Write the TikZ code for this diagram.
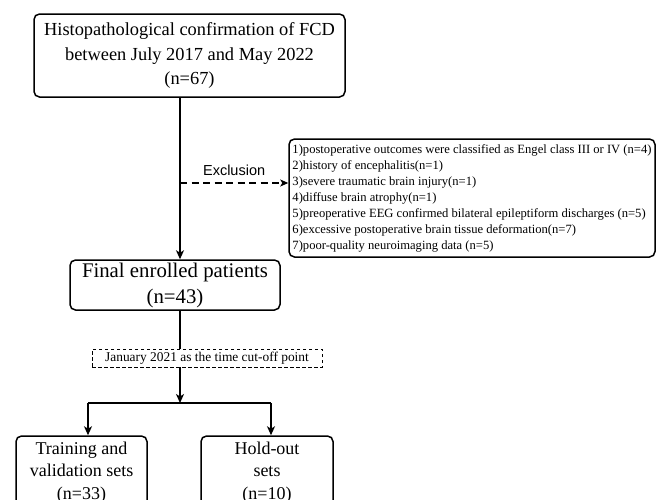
\documentclass[tikz,border=0pt]{standalone}
\usepackage{fontspec}
\setmainfont{Liberation Serif}
\newfontfamily\arialf{Liberation Sans}
\usetikzlibrary{arrows.meta}
\tikzset{
  box/.style={draw, line width=1.5pt, rounded corners=5.5pt, align=center, inner sep=0pt},
  cutbox/.style={draw, dash pattern=on 3.5pt off 2.5pt, line width=0.9pt, inner sep=0pt},
  arr/.style={line width=1.5pt, -{Stealth[length=9pt,width=8pt,inset=2.5pt]}},
  ln/.style={line width=1.5pt},
}
\begin{document}
\begin{tikzpicture}[x=1pt,y=-1pt]
\useasboundingbox (0,0) rectangle (656,499);
\clip (0,0) rectangle (656,499);
% nodes
\node[box, minimum width=311pt, minimum height=83pt,
  font=\fontsize{18.4}{24.5}\selectfont] (top) at (189.5,55.5)
  {Histopathological confirmation of FCD\\between July 2017 and May 2022\\(n=67)};
\node[box, minimum width=210pt, minimum height=50pt,
  font=\fontsize{20.8}{26}\selectfont] (final) at (175,285)
  {Final enrolled patients\\(n=43)};
\node[box, minimum width=366pt, minimum height=118pt, align=left,
  font=\fontsize{12.6}{16}\selectfont] (excl) at (472,198)
  {1)postoperative outcomes were classified as Engel class III or IV (n=4)\\
   2)history of encephalitis(n=1)\\
   3)severe traumatic brain injury(n=1)\\
   4)diffuse brain atrophy(n=1)\\
   5)preoperative EEG confirmed bilateral epileptiform discharges (n=5)\\
   6)excessive postoperative brain tissue deformation(n=7)\\
   7)poor-quality neuroimaging data (n=5)};
\node[cutbox, minimum width=230pt, minimum height=18pt,
  font=\fontsize{13.4}{16}\selectfont] (cut) at (207,358)
  {January 2021 as the time cut-off point};
\node[box, minimum width=131pt, minimum height=73pt,
  font=\fontsize{18}{22.5}\selectfont] (train) at (81.5,472.5)
  {Training and\\validation sets\\(n=33)};
\node[box, minimum width=132pt, minimum height=73pt,
  font=\fontsize{18}{22.5}\selectfont] (hold) at (267,472.5)
  {Hold-out\\sets\\(n=10)};
% coordinates
\coordinate (lx) at (180,0);
\coordinate (ex) at (180,183);
\coordinate (sp) at (180,403);
\coordinate (spl) at (88,403);
\coordinate (spr) at (271,403);
% connectors
\draw[arr] (top.south -| lx) -- (final.north -| lx);
\draw[line width=1.2pt, dash pattern=on 7pt off 4.5pt, -{Stealth[length=8pt,width=7pt,inset=2pt]}] (ex) -- (ex -| excl.west)
  node[midway, above=3pt, font=\arialf\fontsize{14.5}{16}\selectfont] (exl) {Exclusion};
\draw[ln] (final.south -| lx) -- (cut.north -| lx);
\draw[arr] (cut.south -| lx) -- (sp);
\draw[ln] (spl) -- (spr);
\draw[arr] (spl) -- (spl |- train.north);
\draw[arr] (spr) -- (spr |- hold.north);
\end{tikzpicture}
\end{document}
